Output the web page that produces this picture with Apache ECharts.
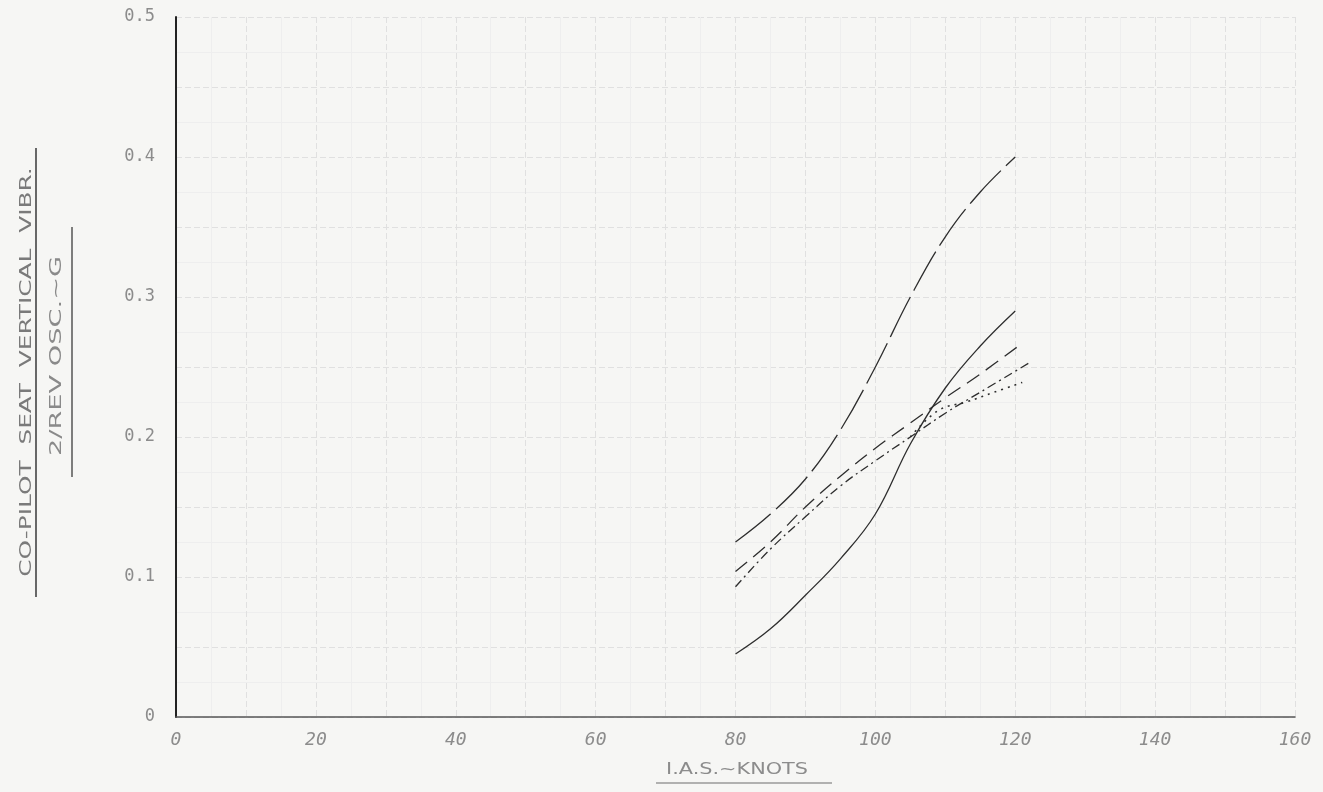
<!DOCTYPE html>
<html>
<head>
<meta charset="utf-8">
<script src="https://cdn.jsdelivr.net/npm/echarts@6/dist/echarts.min.js"></script>
<style>
  html, body { margin: 0; padding: 0; background: #f6f6f4; }
  #chart { width: 1323px; height: 792px; }
</style>
</head>
<body>
<div id="chart"></div>
<script>
// I.A.S. (knots) and 2/rev vibration (g)
const iasA = [80, 85, 90, 95, 100, 105, 110, 115, 120];
const longDash = [0.125, 0.145, 0.170, 0.205, 0.250, 0.300, 0.343, 0.375, 0.400];
const solid = [0.045, 0.063, 0.087, 0.113, 0.145, 0.195, 0.235, 0.265, 0.290];

const iasB = [80, 85, 90, 95, 100, 105, 110, 115, 121];
const mediumDash = [0.104, 0.125, 0.150, 0.172, 0.192, 0.210, 0.228, 0.245, 0.267];

const iasC = [80, 85, 90, 95, 100, 105, 110, 115, 122];
const dashDot = [0.093, 0.120, 0.143, 0.165, 0.183, 0.200, 0.217, 0.232, 0.253];

const iasD = [105, 109, 113, 117, 121];
const dotted = [0.200, 0.219, 0.225, 0.232, 0.239];

const xTicks = [0, 20, 40, 60, 80, 100, 120, 140, 160];

const ink = '#2e2e2e';
const pencil = '#8c8c8c';

function pairs(xs, ys) {
  return xs.map((x, i) => [x, ys[i]]);
}

function curve(name, xs, ys, type, width) {
  return {
    name: name,
    type: 'line',
    data: pairs(xs, ys),
    smooth: 0.4,
    showSymbol: false,
    lineStyle: { color: ink, width: width || 1.3, type: type },
    z: 5
  };
}

const chart = echarts.init(document.getElementById('chart'));

chart.setOption({
  backgroundColor: '#f6f6f4',
  animation: false,
  grid: { left: 176, right: 28, top: 17, bottom: 75 },
  xAxis: {
    type: 'value',
    min: 0,
    max: 160,
    interval: 10,
    axisLine: { show: true, lineStyle: { color: '#555', width: 1.6 } },
    axisTick: { show: false },
    axisLabel: {
      margin: 14,
      color: pencil,
      fontSize: 18,
      fontFamily: 'DejaVu Sans Mono',
      fontStyle: 'italic',
      formatter: v => (xTicks.indexOf(v) >= 0 ? String(v) : '')
    },
    splitLine: { show: true, lineStyle: { color: '#e0e0e0', width: 1, type: [6, 3] } },
    minorTick: { show: false, splitNumber: 2 },
    minorSplitLine: { show: true, lineStyle: { color: '#eeeeee', width: 1 } }
  },
  yAxis: {
    type: 'value',
    min: 0,
    max: 0.5,
    interval: 0.05,
    axisLine: { show: true, lineStyle: { color: '#222', width: 2 } },
    axisTick: { show: false },
    axisLabel: {
      margin: 21,
      color: pencil,
      fontSize: 17,
      fontFamily: 'DejaVu Sans Mono',
      formatter: v => {
        const r = Math.round(v * 100);
        if (r % 10 !== 0) return '';
        return r === 0 ? '0' : (r / 100).toFixed(1);
      }
    },
    splitLine: { show: true, lineStyle: { color: '#e0e0e0', width: 1, type: [6, 3] } },
    minorTick: { show: false, splitNumber: 2 },
    minorSplitLine: { show: true, lineStyle: { color: '#eeeeee', width: 1 } }
  },
  graphic: [
    // x axis title, underlined
    {
      type: 'text', x: 737, y: 770, scaleX: 1.3,
      style: {
        text: 'I.A.S.~KNOTS', fill: pencil, fontSize: 16, fontFamily: 'DejaVu Sans',
        align: 'center', verticalAlign: 'middle'
      }
    },
    { type: 'line', shape: { x1: 656, y1: 783, x2: 832, y2: 783 }, style: { stroke: '#9a9a9a', lineWidth: 1.5 } },
    // y axis title, two underlined lines
    {
      type: 'text', x: 27, y: 372, rotation: Math.PI / 2, scaleX: 1.55,
      style: {
        text: 'CO-PILOT  SEAT  VERTICAL  VIBR.', fill: '#7a7a7a', fontSize: 16,
        fontFamily: 'DejaVu Sans', align: 'center', verticalAlign: 'middle'
      }
    },
    { type: 'line', shape: { x1: 36, y1: 597, x2: 36, y2: 148 }, style: { stroke: '#444', lineWidth: 1.6 } },
    {
      type: 'text', x: 57, y: 356, rotation: Math.PI / 2, scaleX: 1.7,
      style: {
        text: '2/REV OSC.~G', fill: '#8a8a8a', fontSize: 16,
        fontFamily: 'DejaVu Sans', align: 'center', verticalAlign: 'middle'
      }
    },
    { type: 'line', shape: { x1: 72, y1: 477, x2: 72, y2: 227 }, style: { stroke: '#555', lineWidth: 1.5 } }
  ],
  series: [
    curve('long dash', iasA, longDash, [45, 7]),
    curve('solid', iasA, solid, 'solid'),
    curve('medium dash', iasB, mediumDash, [15, 8]),
    curve('dash dot', iasC, dashDot, [9, 4, 2, 4]),
    curve('dotted', iasD, dotted, [2, 5], 1.6)
  ]
});
</script>
</body>
</html>
